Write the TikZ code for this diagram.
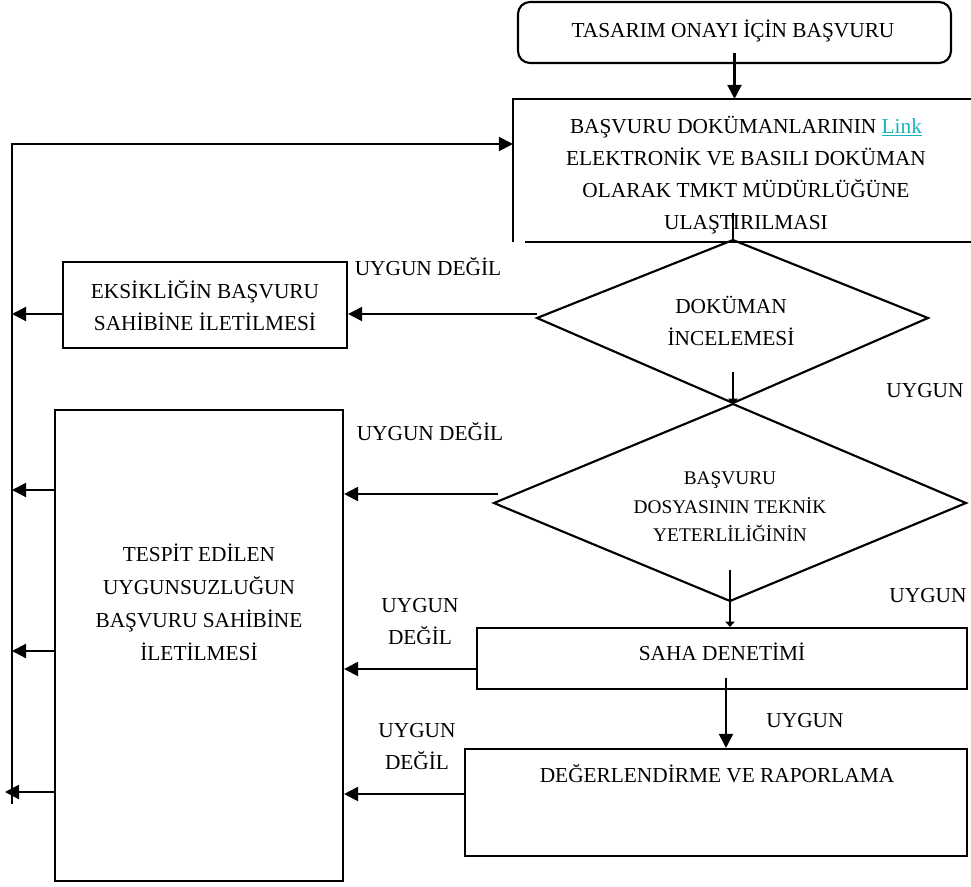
\documentclass[tikz,border=0pt]{standalone}
\usepackage{fontspec}
\setmainfont{Liberation Serif}
\usetikzlibrary{arrows.meta,fit,calc}
\definecolor{linkcol}{RGB}{23,178,190}
\begin{document}
\begin{tikzpicture}[x=0.75pt,y=-0.75pt,
  line width=1.6pt,
  arr/.style={-{Triangle[length=10.5pt,width=10.5pt]}},
  tinytip/.style={-{Triangle[length=4pt,width=7pt]}},
  txt/.style={font=\fontsize{16}{24}\selectfont, align=center, inner sep=0pt},
  smalltxt/.style={font=\fontsize{14.5}{21.4}\selectfont, align=center, inner sep=0pt},
  boxfit/.style={draw, inner sep=0pt}
]
\useasboundingbox (0,0) rectangle (971,886);

% start
\node[boxfit, fit={(518,2)(951,63)}, rounded corners=9pt] (start) {};
\node[txt, anchor=base] (starttext) at (733,37) {TASARIM ONAYI İÇİN BAŞVURU};

% document box (open at right)
\node[fit={(514,100)(971,241)}, inner sep=0pt] (doc) {};
\draw (doc.south west) -- (doc.north west) -- (doc.north east);
\draw ($(doc.south west)+(12,0)$) -- (doc.south east);
\node[txt] (doctext) at (746,175) {BAŞVURU DOKÜMANLARININ \textcolor{linkcol}{\underline{Link}}\\ ELEKTRONİK VE BASILI DOKÜMAN\\ OLARAK TMKT MÜDÜRLÜĞÜNE\\ ULAŞTIRILMASI};

% diamond 1
\coordinate (d1t) at (733,240);
\coordinate (d1r) at (928,318);
\coordinate (d1b) at (733,403);
\coordinate (d1l) at (537,318);
\draw (d1t) -- (d1r) -- (d1b) -- (d1l) -- cycle;
\node[txt] (d1) at (731,321) {DOKÜMAN\\İNCELEMESİ};

% diamond 2
\coordinate (d2t) at (733,404);
\coordinate (d2r) at (966,503);
\coordinate (d2b) at (730,601);
\coordinate (d2l) at (494,503);
\draw (d2t) -- (d2r) -- (d2b) -- (d2l) -- cycle;
\node[smalltxt] (d2) at (730,507) {BAŞVURU\\DOSYASININ TEKNİK\\YETERLİLİĞİNİN};

% EKS box
\node[boxfit, fit={(63,262)(347,348)}] (eks) {};
\node[txt] (ekstext) at (205,306) {EKSİKLİĞİN BAŞVURU\\SAHİBİNE İLETİLMESİ};

% TESPIT box
\node[boxfit, fit={(55,410)(343,881)}] (tes) {};
\node[txt, font=\fontsize{16}{24.75}\selectfont] (testext) at (199,602) {TESPİT EDİLEN\\UYGUNSUZLUĞUN\\BAŞVURU SAHİBİNE\\İLETİLMESİ};

% SAHA box
\node[boxfit, fit={(477,628)(967,689)}] (saha) {};
\node[txt, anchor=base] (sahatext) at (722,660) {SAHA DENETİMİ};

% DEG box
\node[boxfit, fit={(465,749)(967,856)}] (deg) {};
\node[txt, anchor=base] (degtext) at (717,782) {DEĞERLENDİRME VE RAPORLAMA};

% left return line
\coordinate (Ltop) at (12,144);
\coordinate (Lbot) at (12,804);
\draw[arr] (Lbot) -- (Ltop) -- (Ltop -| doc.west);

% connectors
\draw[arr] ($(start.south)+(0,-11)$) -- (start.south |- doc.north);
\draw ($(d1t)+(0,-27)$) -- (d1t);
\coordinate (a1) at (537,314);
\draw[arr] (a1) -- (a1 -| eks.east);
\draw[arr] (eks.west |- a1) -- (Ltop |- a1);
\draw[tinytip] ($(d1b)+(0,-31)$) -- (d2t);
\coordinate (a2) at (498,494);
\draw[arr] (a2) -- (a2 -| tes.east);
\draw[arr] (tes.west |- 0,490) -- (Ltop |- 0,490);
\draw[arr] (tes.west |- 0,651) -- (Ltop |- 0,651);
\coordinate (Lend) at (5,792);
\draw[arr] (tes.west |- Lend) -- (Lend);
\draw[tinytip] ($(d2b)+(0,-31)$) -- (d2b |- saha.north);
\coordinate (a3) at (477,669);
\draw[arr] (a3) -- (a3 -| tes.east);
\coordinate (s1) at (726,678);
\draw[arr] (s1) -- (s1 |- deg.north);
\coordinate (a4) at (465,794);
\draw[arr] (a4) -- (a4 -| tes.east);

% labels
\node[txt, anchor=base] (l1) at (428,275) {UYGUN DEĞİL};
\node[txt, anchor=base] (l2) at (430,440) {UYGUN DEĞİL};
\node[txt] (l3) at (420,622) {UYGUN\\DEĞİL};
\node[txt] (l4) at (417,747) {UYGUN\\DEĞİL};
\node[txt, anchor=base] (r1) at (925,397) {UYGUN};
\node[txt, anchor=base] (r2) at (928,602) {UYGUN};
\node[txt, anchor=base] (r3) at (805,727) {UYGUN};
\end{tikzpicture}
\end{document}
